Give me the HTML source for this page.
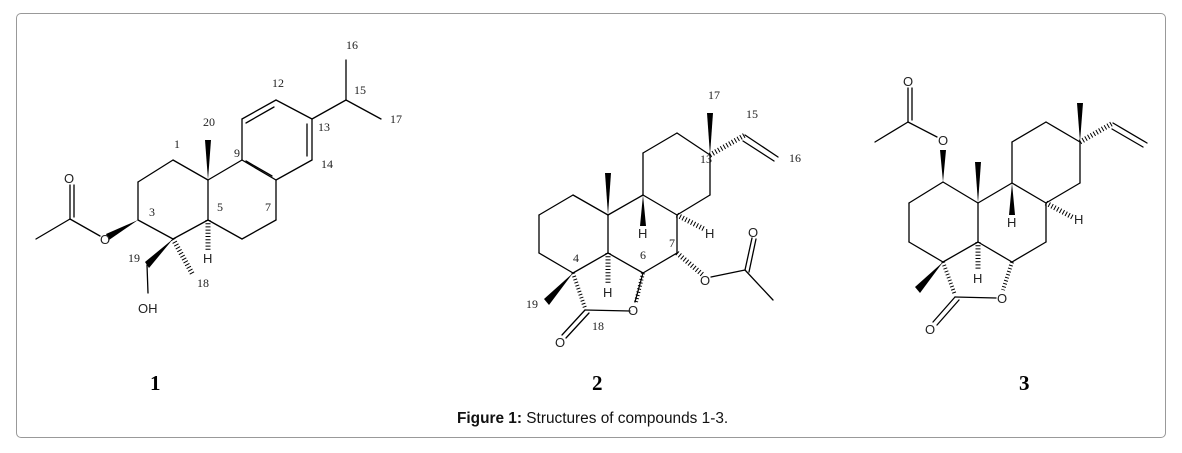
<!DOCTYPE html>
<html><head><meta charset="utf-8"><style>
html,body{margin:0;padding:0;background:#fff;}
body{width:1182px;height:453px;position:relative;overflow:hidden;}
.box{position:absolute;left:16px;top:13px;width:1150px;height:425px;border:1.5px solid #999;border-radius:5px;box-sizing:border-box;}
svg{position:absolute;left:0;top:0;}
.n{font-family:"Liberation Serif",serif;font-size:12px;fill:#222;}
.a{font-family:"Liberation Sans",sans-serif;font-size:13px;fill:#222;}
.big{font-family:"Liberation Serif",serif;font-size:21px;font-weight:bold;fill:#000;}
.cap{font-family:"Liberation Sans",sans-serif;font-size:15.4px;fill:#111;}
</style></head><body>
<div class="box"></div>
<svg width="1182" height="453" viewBox="0 0 1182 453">
<g stroke="#000" stroke-width="1.3" fill="none" stroke-linecap="round">
<!-- Compound 1 -->
<line x1="36" y1="239" x2="70" y2="219"/>
<line x1="70" y1="219" x2="70" y2="185"/>
<line x1="74" y1="217" x2="74" y2="185"/>
<line x1="70" y1="219" x2="100" y2="236"/>
<line x1="138" y1="220" x2="138" y2="182"/>
<line x1="138" y1="182" x2="173" y2="160"/>
<line x1="173" y1="160" x2="208" y2="180"/>
<line x1="138" y1="220" x2="173" y2="239"/>
<line x1="173" y1="239" x2="208" y2="220"/>
<line x1="208" y1="220" x2="208" y2="180"/>
<line x1="208" y1="180" x2="242" y2="160"/>
<line x1="208" y1="220" x2="242" y2="239"/>
<line x1="242" y1="239" x2="276" y2="220"/>
<line x1="276" y1="220" x2="276" y2="180"/>
<line x1="276" y1="180" x2="242" y2="160"/>
<line x1="272" y1="176" x2="246" y2="161"/>
<line x1="242" y1="160" x2="242" y2="119"/>
<line x1="242" y1="119" x2="276" y2="100"/>
<line x1="246" y1="123" x2="274" y2="107"/>
<line x1="276" y1="100" x2="312" y2="119"/>
<line x1="312" y1="119" x2="312" y2="160"/>
<line x1="307" y1="124" x2="307" y2="156"/>
<line x1="312" y1="160" x2="276" y2="180"/>
<line x1="312" y1="119" x2="346" y2="100"/>
<line x1="346" y1="100" x2="346" y2="60"/>
<line x1="346" y1="100" x2="381" y2="119"/>
<line x1="147" y1="265" x2="148" y2="293"/>
<line x1="173" y1="239" x2="193" y2="275" stroke-width="5" stroke-dasharray="1 2.2" stroke-linecap="butt"/>
<line x1="208" y1="220" x2="208" y2="250" stroke-width="5" stroke-dasharray="1 2.2" stroke-linecap="butt"/>
<!-- Compound 2 -->
<line x1="710" y1="155" x2="677" y2="133"/>
<line x1="677" y1="133" x2="643" y2="153"/>
<line x1="643" y1="153" x2="643" y2="195"/>
<line x1="710" y1="155" x2="710" y2="195"/>
<line x1="710" y1="195" x2="677" y2="215"/>
<line x1="677" y1="215" x2="643" y2="195"/>
<line x1="643" y1="195" x2="608" y2="215"/>
<line x1="608" y1="215" x2="573" y2="195"/>
<line x1="573" y1="195" x2="539" y2="215"/>
<line x1="539" y1="215" x2="539" y2="253"/>
<line x1="539" y1="253" x2="573" y2="273"/>
<line x1="573" y1="273" x2="608" y2="253"/>
<line x1="608" y1="253" x2="608" y2="215"/>
<line x1="608" y1="253" x2="643" y2="273"/>
<line x1="643" y1="273" x2="677" y2="253"/>
<line x1="677" y1="253" x2="677" y2="215"/>
<line x1="643" y1="273" x2="635" y2="302"/>
<line x1="630" y1="311" x2="585" y2="310"/>
<line x1="585" y1="310" x2="562" y2="335"/>
<line x1="589" y1="313" x2="566" y2="338"/>
<line x1="745" y1="135" x2="778" y2="157"/>
<line x1="743" y1="141" x2="774" y2="161"/>
<line x1="711" y1="277" x2="745" y2="270"/>
<line x1="745" y1="270" x2="752" y2="238"/>
<line x1="749" y1="272" x2="756" y2="239"/>
<line x1="745" y1="270" x2="773" y2="300"/>
<line x1="710" y1="155" x2="745" y2="135" stroke-width="5" stroke-dasharray="1 2.2" stroke-linecap="butt"/>
<line x1="677" y1="215" x2="704" y2="229" stroke-width="5" stroke-dasharray="1 2.2" stroke-linecap="butt"/>
<line x1="608" y1="253" x2="608" y2="283" stroke-width="5" stroke-dasharray="1 2.2" stroke-linecap="butt"/>
<line x1="573" y1="273" x2="585" y2="308" stroke-width="4" stroke-dasharray="1 2.2" stroke-linecap="butt"/>
<line x1="643" y1="273" x2="636" y2="302" stroke-width="4" stroke-dasharray="1 2.2" stroke-linecap="butt"/>
<line x1="677" y1="253" x2="703" y2="275" stroke-width="5" stroke-dasharray="1 2.2" stroke-linecap="butt"/>
<!-- Compound 3 -->
<line x1="908" y1="88" x2="908" y2="122"/>
<line x1="912" y1="88" x2="912" y2="120"/>
<line x1="875" y1="142" x2="908" y2="122"/>
<line x1="908" y1="122" x2="937" y2="137"/>
<line x1="943" y1="182" x2="909" y2="203"/>
<line x1="909" y1="203" x2="909" y2="242"/>
<line x1="909" y1="242" x2="943" y2="262"/>
<line x1="943" y1="262" x2="978" y2="242"/>
<line x1="978" y1="242" x2="978" y2="203"/>
<line x1="978" y1="203" x2="943" y2="182"/>
<line x1="978" y1="203" x2="1012" y2="183"/>
<line x1="978" y1="242" x2="1012" y2="262"/>
<line x1="1012" y1="262" x2="1046" y2="242"/>
<line x1="1046" y1="242" x2="1046" y2="203"/>
<line x1="1046" y1="203" x2="1012" y2="183"/>
<line x1="1012" y1="183" x2="1012" y2="142"/>
<line x1="1012" y1="142" x2="1046" y2="122"/>
<line x1="1046" y1="122" x2="1080" y2="142"/>
<line x1="1080" y1="142" x2="1080" y2="183"/>
<line x1="1080" y1="183" x2="1046" y2="203"/>
<line x1="1113" y1="123" x2="1147" y2="143"/>
<line x1="1112" y1="129" x2="1143" y2="147"/>
<line x1="996" y1="298" x2="955" y2="297"/>
<line x1="955" y1="297" x2="933" y2="322"/>
<line x1="959" y1="300" x2="937" y2="325"/>
<line x1="1080" y1="142" x2="1113" y2="123" stroke-width="5" stroke-dasharray="1 2.2" stroke-linecap="butt"/>
<line x1="1046" y1="203" x2="1074" y2="218" stroke-width="5" stroke-dasharray="1 2.2" stroke-linecap="butt"/>
<line x1="978" y1="242" x2="978" y2="270" stroke-width="5" stroke-dasharray="1 2.2" stroke-linecap="butt"/>
<line x1="943" y1="262" x2="955" y2="295" stroke-width="4" stroke-dasharray="1 2.2" stroke-linecap="butt"/>
<line x1="1012" y1="262" x2="1003" y2="290" stroke-width="4" stroke-dasharray="1 2.2" stroke-linecap="butt"/>
</g>
<g fill="#000">
<polygon points="208,180 205,140 211,140"/>
<polygon points="138,220 106,234 109,240"/>
<polygon points="173,239 145,262 149,268"/>
<polygon points="710,155 707,113 713,113"/>
<polygon points="608,215 605,173 611,173"/>
<polygon points="643,195 640,226 646,226"/>
<polygon points="573,273 544,299 549,305"/>
<polygon points="943,182 940,150 946,150"/>
<polygon points="978,203 975,162 981,162"/>
<polygon points="1012,183 1009,215 1015,215"/>
<polygon points="1080,142 1077,103 1083,103"/>
<polygon points="943,262 915,287 920,293"/>
</g>
<g class="n">
<text x="346" y="49">16</text><text x="272" y="87">12</text><text x="354" y="94">15</text>
<text x="203" y="126">20</text><text x="318" y="131">13</text><text x="390" y="123">17</text>
<text x="174" y="148">1</text><text x="234" y="157">9</text><text x="321" y="168">14</text>
<text x="149" y="216">3</text><text x="217" y="211">5</text><text x="265" y="211">7</text>
<text x="128" y="262">19</text><text x="197" y="287">18</text>
<text x="708" y="99">17</text><text x="746" y="118">15</text><text x="789" y="162">16</text>
<text x="700" y="163">13</text><text x="669" y="247">7</text><text x="640" y="259">6</text>
<text x="573" y="262">4</text><text x="526" y="308">19</text><text x="592" y="330">18</text>
</g>
<g class="a">
<text x="64" y="183">O</text><text x="100" y="244">O</text><text x="138" y="313">OH</text><text x="203" y="263">H</text>
<text x="638" y="238">H</text><text x="705" y="238">H</text><text x="603" y="297">H</text>
<text x="628" y="315">O</text><text x="700" y="285">O</text><text x="748" y="237">O</text><text x="555" y="347">O</text>
<text x="903" y="86">O</text><text x="938" y="145">O</text><text x="1007" y="227">H</text><text x="1074" y="224">H</text>
<text x="973" y="283">H</text><text x="997" y="303">O</text><text x="925" y="334">O</text>
</g>
<text class="big" x="150" y="390">1</text>
<text class="big" x="592" y="390">2</text>
<text class="big" x="1019" y="390">3</text>
<text class="cap" x="457" y="423"><tspan font-weight="bold">Figure 1:</tspan> Structures of compounds 1-3.</text>
</svg>
</body></html>
